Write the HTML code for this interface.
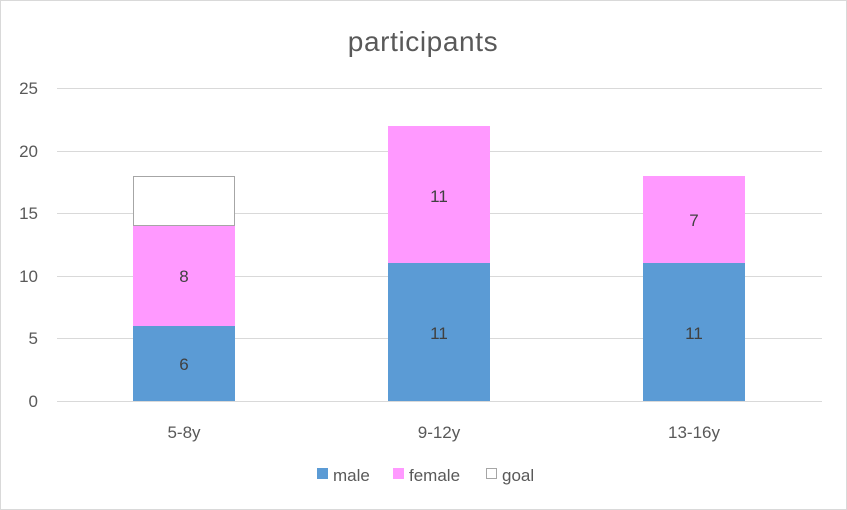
<!DOCTYPE html>
<html><head><meta charset="utf-8"><style>
body{margin:0;background:#fff}
svg{display:block;font-family:"Liberation Sans",sans-serif}
</style></head><body>
<svg width="847" height="510" viewBox="0 0 847 510">
<rect x="0.5" y="0.5" width="846" height="509" fill="#fff" stroke="#d9d9d9"/>
<text x="423" y="51" text-anchor="middle" font-size="28" letter-spacing="0.6" fill="#595959">participants</text>
<g stroke="#d9d9d9" stroke-width="1">
<line x1="57" x2="822" y1="88.5" y2="88.5"/>
<line x1="57" x2="822" y1="151.5" y2="151.5"/>
<line x1="57" x2="822" y1="213.5" y2="213.5"/>
<line x1="57" x2="822" y1="276.5" y2="276.5"/>
<line x1="57" x2="822" y1="338.5" y2="338.5"/>
<line x1="57" x2="822" y1="401.5" y2="401.5"/>
</g>
<g font-size="17" fill="#595959" text-anchor="end">
<text x="38" y="94">25</text><text x="38" y="157">20</text><text x="38" y="219">15</text>
<text x="38" y="282">10</text><text x="38" y="344">5</text><text x="38" y="407">0</text>
</g>
<rect x="133" y="326" width="102" height="75" fill="#5b9bd5"/>
<rect x="133" y="226" width="102" height="100" fill="#ff99ff"/>
<rect x="133.5" y="176.5" width="101" height="49" fill="#fff" stroke="#a6a6a6"/>
<rect x="388" y="263" width="102" height="138" fill="#5b9bd5"/>
<rect x="388" y="126" width="102" height="137" fill="#ff99ff"/>
<rect x="643" y="263" width="102" height="138" fill="#5b9bd5"/>
<rect x="643" y="176" width="102" height="87" fill="#ff99ff"/>
<g font-size="17" fill="#404040" text-anchor="middle">
<text x="184" y="370">6</text><text x="184" y="282">8</text>
<text x="439" y="339">11</text><text x="439" y="202">11</text>
<text x="694" y="339">11</text><text x="694" y="226">7</text>
</g>
<g font-size="17" fill="#595959" text-anchor="middle">
<text x="184" y="438">5-8y</text><text x="439" y="438">9-12y</text><text x="694" y="438">13-16y</text>
</g>
<g font-size="17" fill="#595959">
<rect x="317" y="468" width="11" height="11" fill="#5b9bd5"/><text x="333" y="481">male</text>
<rect x="393" y="468" width="11" height="11" fill="#ff99ff"/><text x="409" y="481">female</text>
<rect x="486.5" y="468.5" width="10" height="10" fill="#fff" stroke="#a6a6a6"/><text x="502" y="481">goal</text>
</g>
</svg>
</body></html>
